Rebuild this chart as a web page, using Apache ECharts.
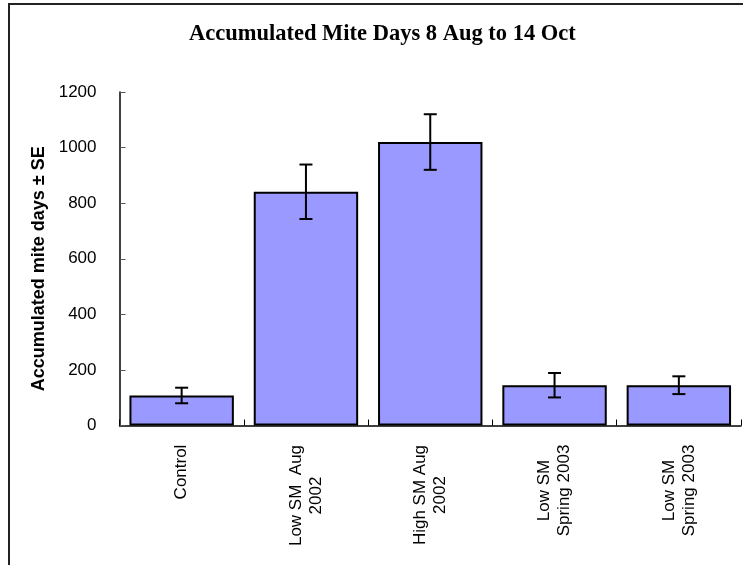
<!DOCTYPE html>
<html>
<head>
<meta charset="utf-8">
<script src="https://cdn.jsdelivr.net/npm/echarts@6/dist/echarts.min.js"></script>
<style>
  html, body { margin: 0; padding: 0; background: #fff; }
  #chart { width: 743px; height: 565px; }
</style>
</head>
<body>
<div id="chart"></div>
<script>
// Treatments along the x axis
const categories = ['Control', 'Low SM  Aug\n2002', 'High SM Aug\n2002', 'Low SM\nSpring 2003', 'Low SM\nSpring 2003'];
// Accumulated mite days (mean) per treatment
const meanValues = [108, 841, 1020, 145, 145];
// Standard error of each mean
const seValues = [28, 98, 100, 44, 32];
// Value axis ticks
const yTicks = { min: 0, max: 1200, step: 200 };

const chart = echarts.init(document.getElementById('chart'), null, { renderer: 'canvas' });

const errorData = meanValues.map((m, i) => [i, m - seValues[i], m + seValues[i]]);

const sansFont = '"Liberation Sans", Arial, sans-serif';
const labelSize = 17;

// Each category label gets its own rich style as wide as its longest line,
// so the shorter line is centred under the longer one.
const measureCtx = document.createElement('canvas').getContext('2d');
measureCtx.font = labelSize + 'px ' + sansFont;
const labelRich = {};
categories.forEach((c, i) => {
  const w = Math.max(...c.split('\n').map(s => measureCtx.measureText(s).width));
  labelRich['c' + i] = {
    width: Math.ceil(w),
    align: 'center',
    fontFamily: sansFont,
    fontSize: labelSize,
    lineHeight: 20,
    color: '#000'
  };
});

const option = {
  animation: false,
  backgroundColor: '#ffffff',
  title: {
    text: 'Accumulated Mite Days 8 Aug to 14 Oct',
    left: 189,
    top: 23,
    padding: 0,
    textStyle: {
      fontFamily: '"Liberation Serif", "Times New Roman", serif',
      fontWeight: 'bold',
      fontSize: 22.5,
      color: '#000'
    }
  },
  graphic: [{
    type: 'rect',
    silent: true,
    shape: { x: 9, y: 4, width: 900, height: 800 },
    style: { fill: 'none', stroke: '#222', lineWidth: 2 }
  }],
  grid: { left: 119.5, right: 2, top: 92, bottom: 139.5, containLabel: false },
  xAxis: {
    type: 'category',
    data: categories,
    boundaryGap: true,
    axisLine: { show: true, lineStyle: { color: '#000', width: 1.5 } },
    axisTick: { show: true, inside: true, length: 6, lineStyle: { color: '#000', width: 1 } },
    axisLabel: {
      rotate: 90,
      margin: 19,
      interval: 0,
      color: '#000',
      formatter: (v, i) => v.split('\n').map(s => '{c' + i + '|' + s + '}').join('\n'),
      rich: labelRich
    },
    splitLine: { show: false }
  },
  yAxis: {
    type: 'value',
    min: yTicks.min,
    max: yTicks.max,
    interval: yTicks.step,
    name: 'Accumulated mite days ± SE',
    nameLocation: 'middle',
    nameGap: 65,
    nameTextStyle: {
      fontFamily: sansFont,
      fontWeight: 'bold',
      fontSize: 18,
      color: '#000',
      padding: [0, 20, 0, 0]
    },
    axisLine: { show: true, lineStyle: { color: '#000', width: 1.5 } },
    axisTick: { show: true, inside: true, length: 6, lineStyle: { color: '#555', width: 1 } },
    axisLabel: {
      margin: 23,
      fontFamily: sansFont,
      fontSize: 17,
      color: '#000',
      formatter: v => String(v)
    },
    splitLine: { show: false }
  },
  series: [
    {
      type: 'bar',
      data: meanValues,
      barWidth: '84%',
      itemStyle: { color: '#9999FF', borderColor: '#000', borderWidth: 2 },
      z: 2
    },
    {
      type: 'custom',
      data: errorData,
      z: 5,
      renderItem: function (params, api) {
        const idx = api.value(0);
        const lo = api.coord([idx, api.value(1)]);
        const hi = api.coord([idx, api.value(2)]);
        const half = 6.5;
        const st = { stroke: '#000', lineWidth: 2, fill: null };
        return {
          type: 'group',
          children: [
            { type: 'line', shape: { x1: hi[0], y1: hi[1], x2: lo[0], y2: lo[1] }, style: st },
            { type: 'line', shape: { x1: hi[0] - half, y1: hi[1], x2: hi[0] + half, y2: hi[1] }, style: st },
            { type: 'line', shape: { x1: lo[0] - half, y1: lo[1], x2: lo[0] + half, y2: lo[1] }, style: st }
          ]
        };
      }
    }
  ]
};

chart.setOption(option);
</script>
</body>
</html>
